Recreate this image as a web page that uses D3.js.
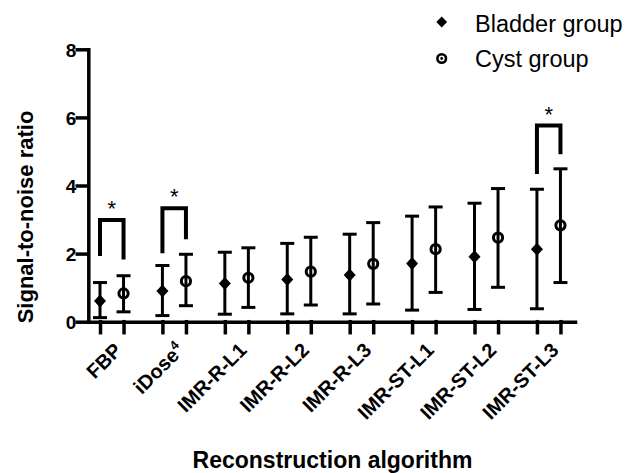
<!DOCTYPE html>
<html>
<head>
<meta charset="utf-8">
<script src="https://cdn.jsdelivr.net/npm/d3@7.9.0/dist/d3.min.js"></script>
<style>
  html, body { margin: 0; padding: 0; background: #fff; }
  svg { display: block; font-family: "Liberation Sans", Arial, sans-serif; }
  .axis path, .axis line { stroke: #000; stroke-width: 3.5; stroke-linecap: square; }
  .axis text { fill: #000; font-weight: bold; font-size: 19px; }
</style>
</head>
<body>
<div id="chart"></div>
<script>
const groups = ['FBP', 'iDose4', 'IMR-R-L1', 'IMR-R-L2', 'IMR-R-L3', 'IMR-ST-L1', 'IMR-ST-L2', 'IMR-ST-L3'];

const bladderMean = [0.61, 0.90, 1.12, 1.24, 1.37, 1.71, 1.91, 2.13];
const bladderHigh = [1.15, 1.65, 2.04, 2.30, 2.57, 3.10, 3.48, 3.89];
const bladderLow  = [0.12, 0.18, 0.22, 0.23, 0.23, 0.34, 0.36, 0.38];

const cystMean = [0.83, 1.19, 1.29, 1.47, 1.70, 2.13, 2.47, 2.83];
const cystHigh = [1.35, 1.98, 2.17, 2.48, 2.91, 3.37, 3.91, 4.49];
const cystLow  = [0.29, 0.47, 0.42, 0.49, 0.52, 0.86, 1.01, 1.15];

// significance brackets (value units)
const sigGroups   = ['FBP', 'iDose4', 'IMR-ST-L3'];
const sigTop      = [2.99, 3.33, 5.76];
const sigLeftEnd  = [1.93, 2.01, 4.34];
const sigRightEnd = [1.83, 2.42, 4.92];

const yTicks = [0, 2, 4, 6, 8];

const W = 641, H = 473;
const cystOffset = 0.377;

const svg = d3.select('#chart').append('svg')
  .attr('width', W).attr('height', H);

const x = d3.scaleLinear().domain([-0.1875, 7.61]).range([88.3, 575]);
const y = d3.scaleLinear().domain([0, 8]).range([321.7, 49.3]);

const gi = name => groups.indexOf(name);
const xb = i => x(i);
const xc = i => x(i + cystOffset);

// square-ish diamond like the GraphPad marker
const diamondPath = (w, h) => `M0,${-h}L${w},0L0,${h}L${-w},0Z`;

// axes
svg.append('g')
  .attr('class', 'axis')
  .attr('transform', `translate(${x.range()[0]},0)`)
  .call(d3.axisLeft(y).tickValues(yTicks).tickSize(11).tickSizeOuter(0).tickPadding(1).tickFormat(d3.format('d')))
  .call(g => g.selectAll('text').attr('dy', '0.36em'));

const tickPos = groups.flatMap((g, i) => [i, i + cystOffset]);
svg.append('g')
  .attr('class', 'axis')
  .attr('transform', `translate(0,${y(0)})`)
  .call(d3.axisBottom(x).tickValues(tickPos).tickSize(11).tickSizeOuter(0).tickFormat(''));

// rotated category labels, ending under the cyst tick
const labels = svg.append('g')
  .attr('font-size', 20).attr('font-weight', 'bold').attr('text-anchor', 'end');
groups.forEach((g, i) => {
  const t = labels.append('text')
    .attr('transform', `translate(${xc(i) - 0.5},351.5) rotate(-45)`);
  if (g === 'iDose4') {
    t.append('tspan').text('iDose');
    t.append('tspan').attr('font-size', 13).attr('dy', -8).text('4');
  } else {
    t.text(g);
  }
});

// error bars
const capW = 14;
function errorBars (cls, xs, lo, hi) {
  const gg = svg.append('g').attr('class', cls)
    .attr('stroke', '#000').attr('stroke-width', 3);
  groups.forEach((g, i) => {
    const px = xs(i);
    gg.append('line').attr('x1', px).attr('x2', px).attr('y1', y(lo[i])).attr('y2', y(hi[i]));
    gg.append('line').attr('x1', px - capW / 2).attr('x2', px + capW / 2).attr('y1', y(lo[i])).attr('y2', y(lo[i]));
    gg.append('line').attr('x1', px - capW / 2).attr('x2', px + capW / 2).attr('y1', y(hi[i])).attr('y2', y(hi[i]));
  });
}
errorBars('bladder-err', xb, bladderLow, bladderHigh);
errorBars('cyst-err', xc, cystLow, cystHigh);

// markers
svg.append('g').selectAll('path')
  .data(bladderMean)
  .join('path')
    .attr('d', diamondPath(6, 6.5))
    .attr('transform', (d, i) => `translate(${xb(i)},${y(d)})`)
    .attr('fill', '#000');

svg.append('g').selectAll('circle')
  .data(cystMean)
  .join('circle')
    .attr('cx', (d, i) => xc(i))
    .attr('cy', d => y(d))
    .attr('r', 4.6)
    .attr('fill', 'none')
    .attr('stroke', '#000')
    .attr('stroke-width', 3);

// significance brackets
const br = svg.append('g');
sigGroups.forEach((g, k) => {
  const i = gi(g);
  const x0 = xb(i), x1 = xc(i);
  br.append('path')
    .attr('d', `M${x0},${y(sigLeftEnd[k])}V${y(sigTop[k])}H${x1}V${y(sigRightEnd[k])}`)
    .attr('fill', 'none').attr('stroke', '#000').attr('stroke-width', 4)
    .attr('stroke-linejoin', 'miter');
  br.append('text')
    .attr('x', (x0 + x1) / 2).attr('y', y(sigTop[k]) - 4)
    .attr('text-anchor', 'middle').attr('font-size', 22)
    .text('*');
});

// axis titles
svg.append('text')
  .attr('transform', `translate(33,217) rotate(-90)`)
  .attr('text-anchor', 'middle').attr('font-weight', 'bold').attr('font-size', 22)
  .text('Signal-to-noise ratio');

svg.append('text')
  .attr('x', 332.5).attr('y', 468)
  .attr('text-anchor', 'middle').attr('font-weight', 'bold').attr('font-size', 23)
  .text('Reconstruction algorithm');

// legend
const lg = svg.append('g').attr('font-size', 23.5);
lg.append('path').attr('d', diamondPath(5.4, 5.6))
  .attr('transform', 'translate(441.7,22)').attr('fill', '#000');
lg.append('text').attr('x', 475).attr('y', 31.5).text('Bladder group');
lg.append('circle').attr('cx', 441.7).attr('cy', 58.5).attr('r', 4.3)
  .attr('fill', 'none').attr('stroke', '#000').attr('stroke-width', 2.6);
lg.append('circle').attr('cx', 441.7).attr('cy', 58.5).attr('r', 1.4).attr('fill', '#000');
lg.append('text').attr('x', 475).attr('y', 66.5).text('Cyst group');
</script>
</body>
</html>
